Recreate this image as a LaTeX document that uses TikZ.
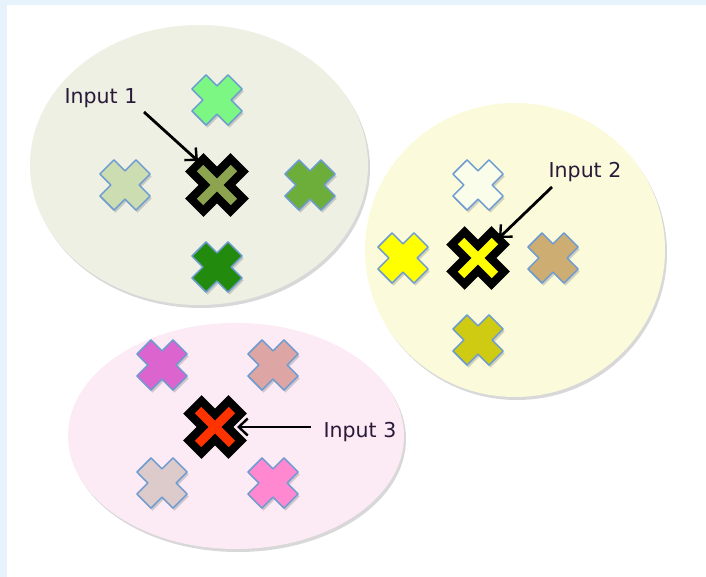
\documentclass[tikz,border=0pt]{standalone}
\usepackage{fontspec}
\setmainfont{DejaVu Sans}
\usetikzlibrary{arrows.meta,calc}
\definecolor{bgblue}{HTML}{E6F3FC}
\definecolor{ellG}{HTML}{EDF0E2}
\definecolor{ellY}{HTML}{FBFBDB}
\definecolor{ellP}{HTML}{FCEAF4}
\definecolor{xedge}{HTML}{6C9BD2}
\definecolor{txt}{HTML}{2A1A3A}
\definecolor{gTop}{HTML}{7CF783}
\definecolor{gLeft}{HTML}{CDDDB2}
\definecolor{gRight}{HTML}{6DAD3A}
\definecolor{gBot}{HTML}{228B0E}
\definecolor{gMid}{HTML}{8CA44F}
\definecolor{yTop}{HTML}{FBFDEB}
\definecolor{yLeft}{HTML}{FFFF00}
\definecolor{yMid}{HTML}{FFFF00}
\definecolor{yRight}{HTML}{CEAD72}
\definecolor{yBot}{HTML}{CFCB12}
\definecolor{pTL}{HTML}{DC64CF}
\definecolor{pTR}{HTML}{DDA5A3}
\definecolor{pMid}{HTML}{FF3300}
\definecolor{pBL}{HTML}{DDCACB}
\definecolor{pBR}{HTML}{FF88D0}
\newcommand{\plusshape}[2]{(#2,#2) -- (#2,#1) -- (-#2,#1) -- (-#2,#2) -- (-#1,#2) -- (-#1,-#2) -- (-#2,-#2) -- (-#2,-#1) -- (#2,-#1) -- (#2,-#2) -- (#1,-#2) -- (#1,#2) -- cycle}
\newcommand{\Xmark}[2]{%
  \fill[gray, opacity=0.35, shift={($(#1)+(1.5,2.5)$)}, rotate=45] \plusshape{25.5}{10};
  \filldraw[xmarkstyle, fill=#2, shift={(#1)}, rotate=45] \plusshape{25.5}{10};}
\newcommand{\Xcenter}[2]{%
  \fill[black, shift={(#1)}, rotate=45] \plusshape{32}{13};
  \fill[#2, shift={(#1)}, rotate=45] \plusshape{24}{4.5};}
\begin{document}
\begin{tikzpicture}[x=1pt, y=-1pt,
  xmarkstyle/.style={draw=xedge, line width=1.5pt, line join=round},
  ellshadow/.style={fill=gray, opacity=0.3},
  lab/.style={text=txt, font=\fontsize{20.5}{24}\selectfont, inner sep=0pt},
  arr/.style={draw=black, line width=2.8pt, -{Straight Barb[length=9pt, width=17pt, line width=2.4pt]}}]
\useasboundingbox (0,0) rectangle (706,577);
\fill[bgblue] (0,0) rectangle (706,577);
\fill[white] (7,5) rectangle (706,577);
% ellipses
\fill[ellshadow] (201,168) ellipse [x radius=169, y radius=140];
\fill[ellG] (199,165) ellipse [x radius=169, y radius=140];
\fill[ellshadow] (517,253) ellipse [x radius=150, y radius=147];
\fill[ellY] (515,250) ellipse [x radius=150, y radius=147];
\fill[ellshadow] (238,439) ellipse [x radius=168, y radius=113];
\fill[ellP] (236,436) ellipse [x radius=168, y radius=113];
% cross centres
\coordinate (g1) at (217,100);
\coordinate (g2) at (125,185);
\coordinate (g0) at (217,185);
\coordinate (g3) at (310,185);
\coordinate (g4) at (217,267);
\coordinate (y1) at (478,185);
\coordinate (y2) at (403,258);
\coordinate (y0) at (478,258);
\coordinate (y3) at (553,258);
\coordinate (y4) at (478,340);
\coordinate (p1) at (162,365);
\coordinate (p2) at (273,365);
\coordinate (p0) at (215,427);
\coordinate (p3) at (162,483);
\coordinate (p4) at (273,483);
% crosses
\Xmark{g1}{gTop}
\Xmark{g2}{gLeft}
\Xmark{g3}{gRight}
\Xmark{g4}{gBot}
\Xcenter{g0}{gMid}
\Xmark{y1}{yTop}
\Xmark{y2}{yLeft}
\Xmark{y3}{yRight}
\Xmark{y4}{yBot}
\Xcenter{y0}{yMid}
\Xmark{p1}{pTL}
\Xmark{p2}{pTR}
\Xmark{p3}{pBL}
\Xmark{p4}{pBR}
\Xcenter{p0}{pMid}
% labels
\node[lab] (lab1) at (101,98) {Input 1};
\node[lab] (lab2) at (585,172) {Input 2};
\node[lab] (lab3) at (360,432) {Input 3};
\coordinate (s1) at (144,112);
\coordinate (e1) at (198,161);
\coordinate (s2) at (552,187);
\coordinate (e2) at (499,238);
\coordinate (s3) at (311,427);
\coordinate (e3) at (237,427);
\draw[arr] (s1) -- (e1);
\draw[arr] (s2) -- (e2);
\draw[arr] (s3) -- (e3);
\end{tikzpicture}
\end{document}
